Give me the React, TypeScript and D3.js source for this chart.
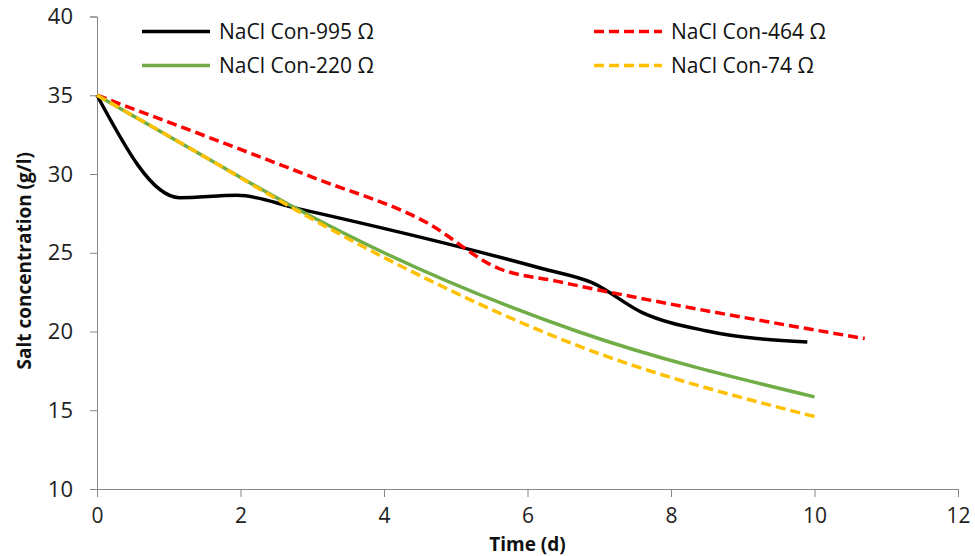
import React, { useRef, useEffect } from 'react';
import * as d3 from 'd3';

// values
const days995 = [0, 1.15, 1.95, 2.8, 6.2, 6.9, 7.6, 8.5, 9.9];
const conc995 = [35, 28.5, 28.65, 27.8, 24.0, 23.1, 21.2, 20.03, 19.33];

const days464 = [0, 3, 4.6, 5.6, 6.4, 10.7];
const conc464 = [35, 29.8, 26.9, 24.0, 23.2, 19.55];

const days220 = [0, 1.5, 2.7, 4, 6.7, 10];
const conc220 = [35, 31.1, 28.0, 25.0, 20.0, 15.85];

const days74 = [0, 1.5, 2.7, 4, 6.7, 10];
const conc74 = [35, 31.1, 27.9, 24.7, 19.1, 14.6];

const xTicks = [0, 2, 4, 6, 8, 10, 12];
const yTicks = [10, 15, 20, 25, 30, 35, 40];

const series = [
  { name: 'NaCl Con-995 Ω', days: days995, conc: conc995, color: '#000000', dash: null, col: 0, row: 0 },
  { name: 'NaCl Con-464 Ω', days: days464, conc: conc464, color: '#FF0000', dash: '10,5', col: 1, row: 0 },
  { name: 'NaCl Con-220 Ω', days: days220, conc: conc220, color: '#70AD47', dash: null, col: 0, row: 1 },
  { name: 'NaCl Con-74 Ω', days: days74, conc: conc74, color: '#FFC000', dash: '10,5', col: 1, row: 1 },
];

const W = 975;
const H = 556;

const SaltChart = () => {
  const svgRef = useRef<SVGSVGElement>(null);

  useEffect(() => {
    const svg = d3.select(svgRef.current);
    svg.selectAll('*').remove();

    const margin = { top: 16.5, right: 17, bottom: 67, left: 97 };
    const x = d3.scaleLinear().domain([0, 12]).range([margin.left, W - margin.right]);
    const y = d3.scaleLinear().domain([10, 40]).range([H - margin.bottom, margin.top]);
    const font = '"Open Sans", Lato, sans-serif';
    const axisColor = '#868686';

    svg.append('rect').attr('width', W).attr('height', H).attr('fill', '#fff');

    // y axis
    const gy = svg.append('g')
      .attr('transform', `translate(${x(0)},0)`)
      .call(d3.axisLeft(y).tickValues(yTicks).tickSize(7).tickPadding(17));
    gy.select('.domain').attr('stroke', axisColor);
    gy.selectAll('line').attr('stroke', axisColor);
    gy.selectAll('text')
      .style('font-family', font)
      .style('font-size', '22px')
      .attr('fill', '#222');

    // x axis
    const gx = svg.append('g')
      .attr('transform', `translate(0,${y(10)})`)
      .call(d3.axisBottom(x).tickValues(xTicks).tickSize(8).tickPadding(11));
    gx.select('.domain').attr('stroke', axisColor);
    gx.selectAll('line').attr('stroke', axisColor);
    gx.selectAll('text')
      .style('font-family', font)
      .style('font-size', '21px')
      .attr('fill', '#222');

    // axis titles
    svg.append('text')
      .attr('x', x(6))
      .attr('y', 551)
      .attr('text-anchor', 'middle')
      .style('font-family', font)
      .style('font-size', '19px')
      .style('font-weight', 'bold')
      .attr('fill', '#111')
      .text('Time (d)');

    svg.append('text')
      .attr('transform', `translate(31,${(y(10) + y(40)) / 2 + 8}) rotate(-90)`)
      .attr('text-anchor', 'middle')
      .style('font-family', font)
      .style('font-size', '19px')
      .style('font-weight', 'bold')
      .attr('fill', '#111')
      .text('Salt concentration (g/l)');

    // lines
    const line = d3.line<[number, number]>()
      .x(d => x(d[0]))
      .y(d => y(d[1]))
      .curve(d3.curveMonotoneX);

    series.forEach(s => {
      const pts = s.days.map((d, i) => [d, s.conc[i]] as [number, number]);
      svg.append('path')
        .datum(pts)
        .attr('d', line)
        .attr('fill', 'none')
        .attr('stroke', s.color)
        .attr('stroke-width', 3.5)
        .attr('stroke-dasharray', s.dash)
        .attr('stroke-linejoin', 'round');
    });

    // legend
    const legend = svg.append('g');
    series.forEach(s => {
      const lx = s.col === 0 ? 142 : 594;
      const ly = s.row === 0 ? 31.5 : 65.5;
      legend.append('line')
        .attr('x1', lx).attr('x2', lx + 68)
        .attr('y1', ly).attr('y2', ly)
        .attr('stroke', s.color)
        .attr('stroke-width', 3.5)
        .attr('stroke-dasharray', s.dash);
      legend.append('text')
        .attr('x', lx + 77)
        .attr('y', ly)
        .attr('dy', '0.36em')
        .style('font-family', font)
        .style('font-size', '21px')
        .attr('fill', '#111')
        .text(s.name);
    });
  }, []);

  return (
    <svg ref={svgRef} width={W} height={H}
      style={{ position: 'absolute', left: 0, top: 0, display: 'block' }} />
  );
};

export default function App() {
  return <SaltChart />;
}
